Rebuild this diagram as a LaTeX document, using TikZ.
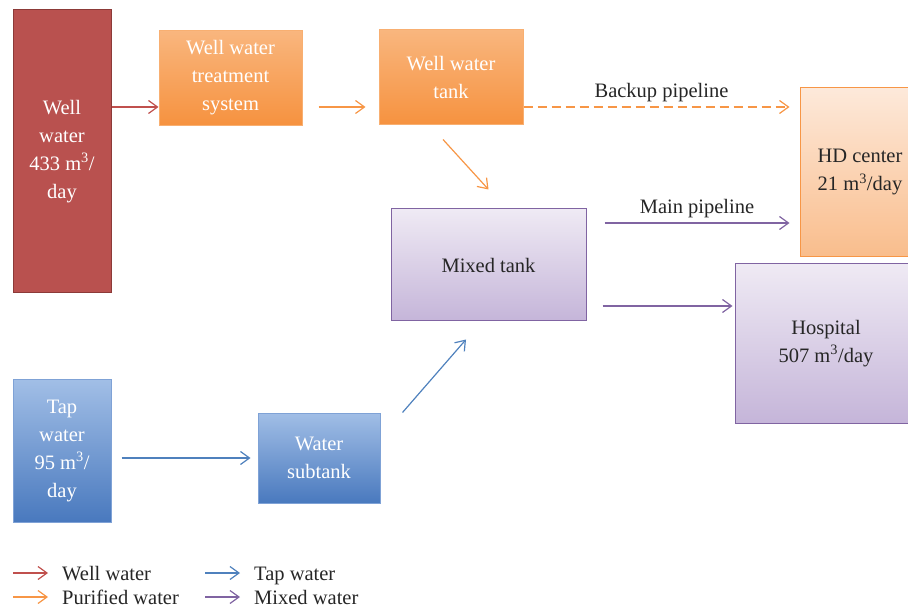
\documentclass[tikz,border=0pt]{standalone}
\usepackage{fontspec}
\setmainfont{Liberation Serif}
\usetikzlibrary{arrows.meta}

\definecolor{wellred}{HTML}{B9514F}
\definecolor{wellline}{HTML}{8C3A38}
\definecolor{orangetop}{HTML}{F9B67E}
\definecolor{orangebot}{HTML}{F6923F}
\definecolor{hdtop}{HTML}{FDE9DA}
\definecolor{hdbot}{HTML}{F9BD8C}
\definecolor{purtop}{HTML}{EFEAF4}
\definecolor{purbot}{HTML}{C5B5D9}
\definecolor{purline}{HTML}{8064A2}
\definecolor{bluetop}{HTML}{A1BEE6}
\definecolor{bluebot}{HTML}{4979BE}
\definecolor{blueline}{HTML}{7FA2D6}
\definecolor{redarrow}{HTML}{C0504D}
\definecolor{orangearrow}{HTML}{F79646}
\definecolor{bluearrow}{HTML}{4F81BD}
\definecolor{txt}{HTML}{262626}

\tikzset{
  box/.style={draw, line width=1pt, inner sep=0pt, align=center,
    font=\fontsize{20.5}{28}\selectfont},
  wellbox/.style={box, fill=wellred, draw=wellline, text=white},
  orangebox/.style={box, top color=orangetop, bottom color=orangebot, draw=orangetop!80!orangebot, text=white},
  hdbox/.style={box, top color=hdtop, bottom color=hdbot, draw=orangearrow, text=txt},
  mixbox/.style={box, top color=purtop, bottom color=purbot, draw=purline, text=txt},
  tapbox/.style={box, top color=bluetop, bottom color=bluebot, draw=blueline, text=white},
  flow/.style={line width=1.2pt, -{Straight Barb[length=9pt,width=13pt]}},
  wellarrow/.style={flow, draw=redarrow},
  purearrow/.style={flow, draw=orangearrow},
  taparrow/.style={flow, draw=bluearrow},
  mixarrow/.style={flow, draw=purline},
  legtext/.style={inner sep=0pt, text=txt, font=\fontsize{20.5}{24}\selectfont},
  pipetext/.style={text=txt, font=\fontsize{20.5}{24}\selectfont}
}

\begin{document}
\begin{tikzpicture}[x=1pt,y=-1pt]
\clip (0,0) rectangle (908,612);
% boxes
\node[wellbox, minimum width=98, minimum height=283] (well) at (62,151.5) {Well\\water\\433 m\textsuperscript{3}/\\day};
\node[orangebox, minimum width=143, minimum height=95] (treat) at (230.5,78) {Well water\\treatment\\system};
\node[orangebox, minimum width=144, minimum height=95] (wtank) at (451,77.5) {Well water\\tank};
\node[hdbox, minimum width=120, minimum height=169] (hd) at (860,172.5) {HD center\\21 m\textsuperscript{3}/day};
\node[mixbox, minimum width=195, minimum height=112] (mixed) at (488.5,265) {Mixed tank};
\node[mixbox, minimum width=182, minimum height=159] (hosp) at (826,343.5) {Hospital\\507 m\textsuperscript{3}/day};
\node[tapbox, minimum width=98, minimum height=142] (tap) at (62,451) {Tap\\water\\95 m\textsuperscript{3}/\\day};
\node[tapbox, minimum width=122, minimum height=90] (sub) at (319,458) {Water\\subtank};

% connectors
\coordinate (r1) at ([yshift=-29pt]treat.west);
\draw[wellarrow] (well.east |- r1) -- (r1);
\draw[purearrow, shorten <=16pt, shorten >=13pt] ([yshift=-29pt]treat.east) -- ([yshift=-29.5pt]wtank.west);
\coordinate (b1) at ([yshift=-29.5pt]wtank.east);
\draw[purearrow, dash pattern=on 9pt off 5pt, shorten >=10pt] (b1) -- node[pipetext, above=1pt] {Backup pipeline} (hd.west |- b1);
\draw[purearrow] ([xshift=-8pt,yshift=-14pt]wtank.south) -- ([yshift=19pt]mixed.north);
\coordinate (m1) at ([yshift=42pt]mixed.east);
\draw[mixarrow, shorten <=18pt, shorten >=10pt] (m1) -- node[pipetext, above=1pt, xshift=4pt] {Main pipeline} (hd.west |- m1);
\coordinate (m2) at ([yshift=-41pt]mixed.east);
\draw[mixarrow, shorten <=16pt, shorten >=2pt] (m2) -- (hosp.west |- m2);
\draw[taparrow, shorten <=10pt, shorten >=7pt] (tap.east |- sub.west) -- (sub.west);
\draw[taparrow] ([xshift=22pt]sub.north east) -- ([xshift=-22.5pt,yshift=-18pt]mixed.south);

% legend
\foreach \sty/\txt/\x/\y in {wellarrow/Well water/13/573, purearrow/Purified water/13/597,
    taparrow/Tap water/205/573, mixarrow/Mixed water/205/597}
{ \node[legtext, anchor=base west] (leg\sty) at (\x+49,\y+7) {\txt};
  \draw[\sty] ([xshift=-49pt,yshift=7pt]leg\sty.base west) -- ([xshift=-14pt,yshift=7pt]leg\sty.base west); }
\end{tikzpicture}
\end{document}
